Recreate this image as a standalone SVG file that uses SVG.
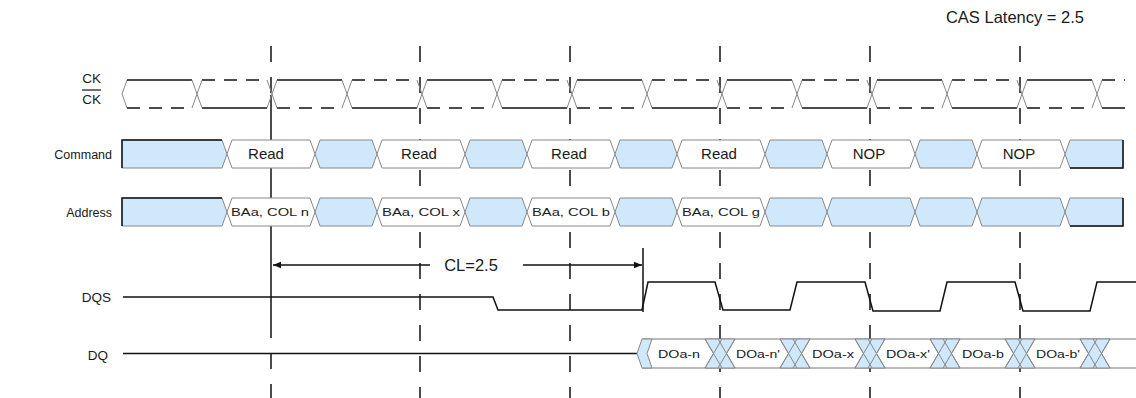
<svg xmlns="http://www.w3.org/2000/svg" width="1136" height="398" viewBox="0 0 1136 398">
<style>
text{font-family:"Liberation Sans",Arial,sans-serif;fill:#1a1a1a}
.lbl{font-size:13.5px;text-anchor:end}
.cmd{font-size:15px;text-anchor:middle}
.sm{font-size:11px;text-anchor:middle}
.blue{fill:#cfe8fb;stroke:#888;stroke-width:1}
.white{fill:#fff;stroke:#888;stroke-width:1}
.sig{fill:none;stroke:#111;stroke-width:1.5}
.dsh{fill:none;stroke:#111;stroke-width:1.5;stroke-dasharray:13 9}
.x{fill:none;stroke:#888;stroke-width:1}
.vd{stroke:#111;stroke-width:1.5;stroke-dasharray:16 15}
.vs{stroke:#111;stroke-width:1.5}
</style>
<defs>
<marker id="ah" viewBox="0 0 10 10" refX="10" refY="5" markerWidth="8" markerHeight="8" markerUnits="userSpaceOnUse" orient="auto-start-reverse">
<path d="M0,1 L10,5 L0,9 z" fill="#111"/>
</marker>
</defs>

<text x="1084" y="23" style="font-size:16.5px;text-anchor:end">CAS Latency = 2.5</text>

<g id="timing-lines">
<line class="vd" x1="271" y1="46" x2="271" y2="95"/>
<line class="vs" x1="271" y1="95" x2="271" y2="338"/>
<line class="vd" x1="271" y1="353" x2="271" y2="398"/>
<line class="vd" x1="420" y1="46" x2="420" y2="398"/>
<line class="vd" x1="570" y1="46" x2="570" y2="398"/>
<line class="vd" x1="720" y1="46" x2="720" y2="398"/>
<line class="vd" x1="870" y1="46" x2="870" y2="398"/>
<line class="vd" x1="1020" y1="46" x2="1020" y2="398"/>
</g>

<g id="ck">
<text class="lbl" x="101" y="83">CK</text>
<line x1="82" y1="90" x2="101" y2="90" stroke="#111" stroke-width="1.2"/>
<text class="lbl" x="101" y="104">CK</text>
<path class="x" d="M127,80 L122,94 L127,108"/>
<path class="sig" d="M127,80H192 M202,108H267 M277,80H342 M352,108H417 M427,80H492 M502,108H567 M577,80H642 M652,108H717 M727,80H792 M802,108H867 M877,80H942 M952,108H1017 M1027,80H1092 M1102,108H1125"/>
<path class="dsh" d="M127,108H192 M202,80H267 M277,108H342 M352,80H417 M427,108H492 M502,80H567 M577,108H642 M652,80H717 M727,108H792 M802,80H867 M877,108H942 M952,80H1017 M1027,108H1092 M1102,80H1125"/>
<path class="x" d="M192,80L202,108M192,108L202,80 M267,80L277,108M267,108L277,80 M342,80L352,108M342,108L352,80 M417,80L427,108M417,108L427,80 M492,80L502,108M492,108L502,80 M567,80L577,108M567,108L577,80 M642,80L652,108M642,108L652,80 M717,80L727,108M717,108L727,80 M792,80L802,108M792,108L802,80 M867,80L877,108M867,108L877,80 M942,80L952,108M942,108L952,80 M1017,80L1027,108M1017,108L1027,80 M1092,80L1102,108M1092,108L1102,80"/>
</g>

<g id="command">
<text class="lbl" x="112" y="159" style="font-size:12.5px">Command</text>
<polygon class="blue" points="122,140 222,140 227,154 222,168 122,168"/>
<path d="M122,168V140H222" fill="none" stroke="#111" stroke-width="1.5"/>
<polygon class="white" points="227,154 232,140 310,140 315,154 310,168 232,168"/>
<polygon class="blue" points="315,154 320,140 372,140 377,154 372,168 320,168"/>
<polygon class="white" points="377,154 382,140 460,140 465,154 460,168 382,168"/>
<polygon class="blue" points="465,154 470,140 522,140 527,154 522,168 470,168"/>
<polygon class="white" points="527,154 532,140 610,140 615,154 610,168 532,168"/>
<polygon class="blue" points="615,154 620,140 672,140 677,154 672,168 620,168"/>
<polygon class="white" points="677,154 682,140 760,140 765,154 760,168 682,168"/>
<polygon class="blue" points="765,154 770,140 822,140 827,154 822,168 770,168"/>
<polygon class="white" points="827,154 832,140 910,140 915,154 910,168 832,168"/>
<polygon class="blue" points="915,154 920,140 972,140 977,154 972,168 920,168"/>
<polygon class="white" points="977,154 982,140 1060,140 1065,154 1060,168 982,168"/>
<polygon class="blue" points="1065,154 1070,140 1123,140 1123,168 1070,168"/>
<path d="M1070,168H1123V140" fill="none" stroke="#111" stroke-width="1.5"/>
<text class="cmd" x="266" y="159">Read</text>
<text class="cmd" x="419" y="159">Read</text>
<text class="cmd" x="569" y="159">Read</text>
<text class="cmd" x="719" y="159">Read</text>
<text class="cmd" x="869" y="159">NOP</text>
<text class="cmd" x="1019" y="159">NOP</text>
</g>

<g id="address">
<text class="lbl" x="112" y="217" style="font-size:12.5px">Address</text>
<polygon class="blue" points="122,198 222,198 227,212 222,226 122,226"/>
<path d="M122,226V198H222" fill="none" stroke="#111" stroke-width="1.5"/>
<polygon class="white" points="227,212 232,198 310,198 315,212 310,226 232,226"/>
<polygon class="blue" points="315,212 320,198 372,198 377,212 372,226 320,226"/>
<polygon class="white" points="377,212 382,198 460,198 465,212 460,226 382,226"/>
<polygon class="blue" points="465,212 470,198 522,198 527,212 522,226 470,226"/>
<polygon class="white" points="527,212 532,198 610,198 615,212 610,226 532,226"/>
<polygon class="blue" points="615,212 620,198 672,198 677,212 672,226 620,226"/>
<polygon class="white" points="677,212 682,198 760,198 765,212 760,226 682,226"/>
<polygon class="blue" points="765,212 770,198 822,198 827,212 822,226 770,226"/>
<polygon class="blue" points="827,212 832,198 910,198 915,212 910,226 832,226"/>
<polygon class="blue" points="915,212 920,198 972,198 977,212 972,226 920,226"/>
<polygon class="blue" points="977,212 982,198 1060,198 1065,212 1060,226 982,226"/>
<polygon class="blue" points="1065,212 1070,198 1123,198 1123,226 1070,226"/>
<path d="M1070,226H1123V198" fill="none" stroke="#111" stroke-width="1.5"/>
<text class="sm" x="270" y="216" textLength="78" lengthAdjust="spacingAndGlyphs">BAa, COL n</text>
<text class="sm" x="421" y="216" textLength="78" lengthAdjust="spacingAndGlyphs">BAa, COL x</text>
<text class="sm" x="571" y="216" textLength="78" lengthAdjust="spacingAndGlyphs">BAa, COL b</text>
<text class="sm" x="721" y="216" textLength="78" lengthAdjust="spacingAndGlyphs">BAa, COL g</text>
</g>

<g id="cl-arrow">
<line x1="643" y1="248" x2="643" y2="312" stroke="#111" stroke-width="1.5"/>
<line x1="273" y1="265" x2="430" y2="265" stroke="#111" stroke-width="1.5" marker-start="url(#ah)"/>
<line x1="523" y1="265" x2="642" y2="265" stroke="#111" stroke-width="1.5" marker-end="url(#ah)"/>
<text x="471" y="271" style="font-size:16.5px;text-anchor:middle">CL=2.5</text>
</g>

<g id="dqs">
<text class="lbl" x="111" y="302">DQS</text>
<path class="sig" d="M123,297H493L498,310H642L648,282H715L723,310H790L797,282H865L873,311H940L947,282H1015L1023,311H1090L1097,282H1136"/>
</g>

<g id="dq">
<text class="lbl" x="108" y="360">DQ</text>
<line x1="123" y1="353.5" x2="637" y2="353.5" stroke="#111" stroke-width="1.5"/>
<rect x="642" y="339" width="494" height="29" fill="#fff"/>
<path d="M642,339H1136M642,368H1136" stroke="#777" stroke-width="1"/>
<polygon points="637,353.5 642,339 652,339 647,353.5 652,368 642,368" fill="#cfe8fb" stroke="#888" stroke-width="1"/>
<g id="dq-crossings">
<polygon class="blue" points="705,339 735,339 726.5,353.5 735,368 705,368 713.5,353.5" stroke="none"/>
<polygon class="blue" points="780,339 810,339 801.5,353.5 810,368 780,368 788.5,353.5" stroke="none"/>
<polygon class="blue" points="855,339 885,339 876.5,353.5 885,368 855,368 863.5,353.5" stroke="none"/>
<polygon class="blue" points="930,339 960,339 951.5,353.5 960,368 930,368 938.5,353.5" stroke="none"/>
<polygon class="blue" points="1005,339 1035,339 1026.5,353.5 1035,368 1005,368 1013.5,353.5" stroke="none"/>
<polygon class="blue" points="1080,339 1110,339 1101.5,353.5 1110,368 1080,368 1088.5,353.5" stroke="none"/>
<path class="x" d="M705,339L722,368M705,368L722,339M718,339L735,368M718,368L735,339 M780,339L797,368M780,368L797,339M793,339L810,368M793,368L810,339 M855,339L872,368M855,368L872,339M868,339L885,368M868,368L885,339 M930,339L947,368M930,368L947,339M943,339L960,368M943,368L960,339 M1005,339L1022,368M1005,368L1022,339M1018,339L1035,368M1018,368L1035,339 M1080,339L1097,368M1080,368L1097,339M1093,339L1110,368M1093,368L1110,339"/>
</g>
<text class="sm" x="679" y="357.5" textLength="42" lengthAdjust="spacingAndGlyphs">DOa-n</text>
<text class="sm" x="758" y="357.5" textLength="44" lengthAdjust="spacingAndGlyphs">DOa-n'</text>
<text class="sm" x="833" y="357.5" textLength="42" lengthAdjust="spacingAndGlyphs">DOa-x</text>
<text class="sm" x="908" y="357.5" textLength="44" lengthAdjust="spacingAndGlyphs">DOa-x'</text>
<text class="sm" x="983" y="357.5" textLength="42" lengthAdjust="spacingAndGlyphs">DOa-b</text>
<text class="sm" x="1058" y="357.5" textLength="44" lengthAdjust="spacingAndGlyphs">DOa-b'</text>
</g>
</svg>
